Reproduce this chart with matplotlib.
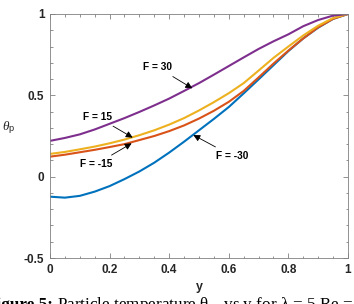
import matplotlib

matplotlib.use("Agg")
import matplotlib.pyplot as plt
import numpy as np
from matplotlib.ticker import MultipleLocator

# values (y step 0.05)
y_pos = [0.00, 0.05, 0.10, 0.15, 0.20, 0.25, 0.30, 0.35, 0.40, 0.45, 0.50,
         0.55, 0.60, 0.65, 0.70, 0.75, 0.80, 0.85, 0.90, 0.95, 1.00]
theta_m30 = [-0.123, -0.129, -0.118, -0.092, -0.058, -0.015, 0.032, 0.086, 0.148, 0.215, 0.285,
             0.355, 0.428, 0.512, 0.598, 0.685, 0.772, 0.850, 0.916, 0.970, 1.000]
theta_m15 = [0.123, 0.135, 0.150, 0.165, 0.182, 0.200, 0.225, 0.250, 0.280, 0.315, 0.357,
             0.405, 0.460, 0.527, 0.610, 0.695, 0.775, 0.850, 0.918, 0.970, 1.000]
theta_15 = [0.140, 0.152, 0.168, 0.185, 0.205, 0.228, 0.255, 0.285, 0.320, 0.360, 0.407,
            0.458, 0.513, 0.575, 0.652, 0.730, 0.800, 0.868, 0.928, 0.975, 1.000]
theta_30 = [0.220, 0.238, 0.260, 0.290, 0.325, 0.360, 0.398, 0.438, 0.480, 0.527, 0.575,
            0.627, 0.680, 0.733, 0.785, 0.832, 0.875, 0.925, 0.963, 0.990, 1.000]

SERIES = (
    (theta_m30, "#0072BD"),
    (theta_m15, "#D95319"),
    (theta_15, "#EDB120"),
    (theta_30, "#7E2F8E"),
)
# label, text position, arrow tip
NOTES = (
    ("F = 30", (0.361, 0.672), (0.4775, 0.543)),
    ("F = 15", (0.159, 0.367), (0.2775, 0.240)),
    ("F = -15", (0.154, 0.076), (0.274, 0.205)),
    ("F = -30", (0.612, 0.127), (0.481, 0.256)),
)

plt.rcParams.update(
    {
        "font.family": ["Liberation Sans", "DejaVu Sans"],
        "font.size": 8.5,
        "mathtext.fontset": "custom",
        "mathtext.rm": "Liberation Sans",
        "mathtext.it": "Liberation Serif:italic",
    }
)

fig = plt.figure(figsize=(3.54, 3.04), dpi=100, facecolor="white")
ax = fig.add_axes([0.1412, 0.1513, 0.8418, 0.8027])

for values, color in SERIES:
    ax.plot(y_pos, values, color=color, linewidth=1.5)

for label, text_xy, tip_xy in NOTES:
    ax.annotate(
        label,
        xy=tip_xy,
        xytext=text_xy,
        ha="center",
        va="center",
        fontsize=7.3,
        fontweight="bold",
        arrowprops=dict(arrowstyle="-|>", color="black", lw=0.6,
                        mutation_scale=10, shrinkA=2, shrinkB=0),
    )

ax.set_xlim(0, 1)
ax.set_ylim(-0.5, 1)
ax.set_xticks([0, 0.2, 0.4, 0.6, 0.8, 1])
ax.set_xticklabels(["0", "0.2", "0.4", "0.6", "0.8", "1"], fontweight="bold")
ax.set_yticks([-0.5, 0, 0.5, 1])
ax.set_yticklabels(["-0.5", "0", "0.5", "1"], fontweight="bold")
ax.xaxis.set_minor_locator(MultipleLocator(0.05))
ax.yaxis.set_minor_locator(MultipleLocator(0.1))
ax.tick_params(which="both", direction="in", top=True, right=True,
               color="#808080", width=0.6, labelcolor="#262626")
ax.tick_params(which="major", length=3.5, labelsize=8.5, pad=4)
ax.tick_params(which="minor", length=1.8)
for spine in ax.spines.values():
    spine.set_color("#808080")
    spine.set_linewidth(0.6)

ax.set_xlabel("y", fontsize=9, color="#262626", fontweight="bold")
ax.xaxis.set_label_coords(0.5, -0.095)
ax.set_ylabel(r"$\it{\theta}_\mathrm{p}$", fontsize=9.5, rotation=0, color="#262626")
ax.yaxis.set_label_coords(-0.138, 0.50)

fig.text(-0.04, -0.018, "Figure 5:", family="Liberation Serif", fontsize=12.3,
         fontweight="bold", ha="left", va="baseline")
fig.text(0.16, -0.018, r"Particle temperature θ$_\mathrm{p}$  vs y for λ = 5 Re = 1",
         family="Liberation Serif", fontsize=12.3, math_fontfamily="stix",
         ha="left", va="baseline")

fig.savefig("out.png", dpi=100)
plt.close(fig)
